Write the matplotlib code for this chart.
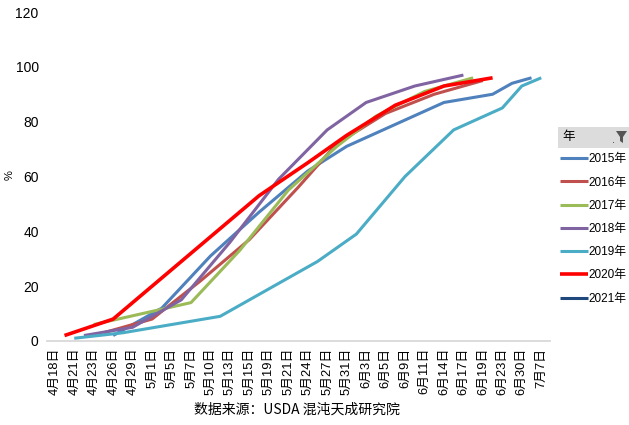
import matplotlib
matplotlib.use('Agg')
import matplotlib.pyplot as plt
from matplotlib.patches import Rectangle, Polygon

plt.rcParams['font.family'] = ['Liberation Sans Narrow', 'Liberation Sans', 'Noto Sans CJK SC']

# 类别轴：每隔一个显示标签
categories = ['4月18日', '4月19日', '4月21日', '4月22日', '4月23日', '4月24日', '4月26日', '4月28日',
              '4月29日', '4月30日', '5月1日', '5月3日', '5月5日', '5月6日', '5月7日', '5月8日',
              '5月10日', '5月12日', '5月13日', '5月14日', '5月15日', '5月17日', '5月19日', '5月20日',
              '5月21日', '5月22日', '5月24日', '5月26日', '5月27日', '5月28日', '5月31日', '6月2日',
              '6月3日', '6月4日', '6月5日', '6月7日', '6月9日', '6月10日', '6月11日', '6月12日',
              '6月14日', '6月16日', '6月17日', '6月18日', '6月19日', '6月21日', '6月23日', '6月28日',
              '6月30日', '7月5日', '7月7日']

d2015 = ['4月26日', '5月3日', '5月10日', '5月17日', '5月24日', '5月31日', '6月7日', '6月14日',
         '6月21日', '6月28日', '7月5日']
v2015 = [2, 12, 31, 47, 62, 71, 79, 87, 90, 94, 96]

d2016 = ['4月24日', '5月1日', '5月8日', '5月15日', '5月22日', '5月28日', '6月5日', '6月12日', '6月19日']
v2016 = [3, 8, 22, 37, 56, 72, 83, 90, 95]

d2017 = ['4月23日', '4月30日', '5月7日', '5月14日', '5月21日', '5月28日', '6月4日', '6月11日', '6月18日']
v2017 = [6, 10, 14, 33, 55, 71, 82, 91, 96]

d2018 = ['4月22日', '4月29日', '5月6日', '5月13日', '5月20日', '5月27日', '6月3日', '6月10日', '6月17日']
v2018 = [2, 5, 15, 36, 59, 77, 87, 93, 97]

d2019 = ['4月21日', '4月28日', '5月5日', '5月12日', '5月19日', '5月26日', '6月2日', '6月9日',
         '6月16日', '6月23日', '6月30日', '7月7日']
v2019 = [1, 3, 6, 9, 19, 29, 39, 60, 77, 85, 93, 96]

d2020 = ['4月19日', '4月26日', '5月3日', '5月10日', '5月17日', '5月24日', '5月31日', '6月7日',
         '6月14日', '6月21日']
v2020 = [2, 8, 23, 38, 53, 65, 75, 86, 93, 96]

d2021 = ['4月18日']
v2021 = [8]

series = [
    ('2015年', d2015, v2015, '#4F81BD', 2.2),
    ('2016年', d2016, v2016, '#C0504D', 2.2),
    ('2017年', d2017, v2017, '#9BBB59', 2.2),
    ('2018年', d2018, v2018, '#8064A2', 2.2),
    ('2019年', d2019, v2019, '#4BACC6', 2.2),
    ('2020年', d2020, v2020, '#FF0000', 2.6),
    ('2021年', d2021, v2021, '#1F497D', 2.2),
]

fig = plt.figure(figsize=(6.29, 4.25), dpi=100)
ax = fig.add_axes([47 / 629, 1 - 341 / 425, (550 - 47) / 629, (341 - 12) / 425])

handles = []
for name, dates, vals, col, lw in series:
    xs = [categories.index(d) for d in dates]
    ln, = ax.plot(xs, vals, color=col, lw=lw, label=name, solid_capstyle='butt')
    handles.append(ln)

ax.set_ylim(0, 120)
ax.set_yticks(range(0, 121, 20))
ax.set_xlim(-0.8, 50.9)
ax.set_xticks(range(0, len(categories), 2))
ax.set_xticklabels(categories[::2], rotation=90, fontsize=9.3, family=['Liberation Sans', 'Noto Sans CJK SC'])
ax.tick_params(axis='both', length=0)
ax.tick_params(axis='y', labelsize=10, pad=6)
ax.tick_params(axis='x', pad=5)
for s in ['top', 'right', 'left']:
    ax.spines[s].set_visible(False)
ax.spines['bottom'].set_color('#D9D9D9')
ax.spines['bottom'].set_linewidth(1.3)

fig.text(10 / 629, 1 - 175 / 425, '%', rotation=90, fontsize=8, ha='center', va='center')

fig.text(297 / 629, 1 - 410 / 425, '数据来源：USDA 混沌天成研究院', fontsize=10, ha='center', va='center',
         family=['Noto Sans CJK SC'])

# 图例标题（数据透视图字段按钮）
fig.add_artist(Rectangle((558 / 629, 1 - 148 / 425), 71 / 629, 21 / 425, transform=fig.transFigure,
                         facecolor='#DCDCDC', edgecolor='none'))
fig.text(562 / 629, 1 - 137 / 425, '年', fontsize=9, va='center', family=['Noto Sans CJK SC'])
fig.add_artist(Polygon([(616 / 629, 1 - 131 / 425), (627 / 629, 1 - 131 / 425),
                        (623 / 629, 1 - 137 / 425), (623 / 629, 1 - 143 / 425),
                        (620 / 629, 1 - 141 / 425), (620 / 629, 1 - 137 / 425)],
                       closed=True, transform=fig.transFigure, facecolor='#555555', edgecolor='none'))
fig.text(612 / 629, 1 - 140 / 425, '.', fontsize=8, va='center', color='#333333')

fig.legend(handles=handles, loc='upper left', bbox_to_anchor=(558 / 629, 1 - 151 / 425),
           frameon=False, fontsize=8.5, handlelength=2.3, handletextpad=0.1, labelspacing=0.95,
           borderaxespad=0, borderpad=0.2)

fig.savefig('out.png', dpi=100)
